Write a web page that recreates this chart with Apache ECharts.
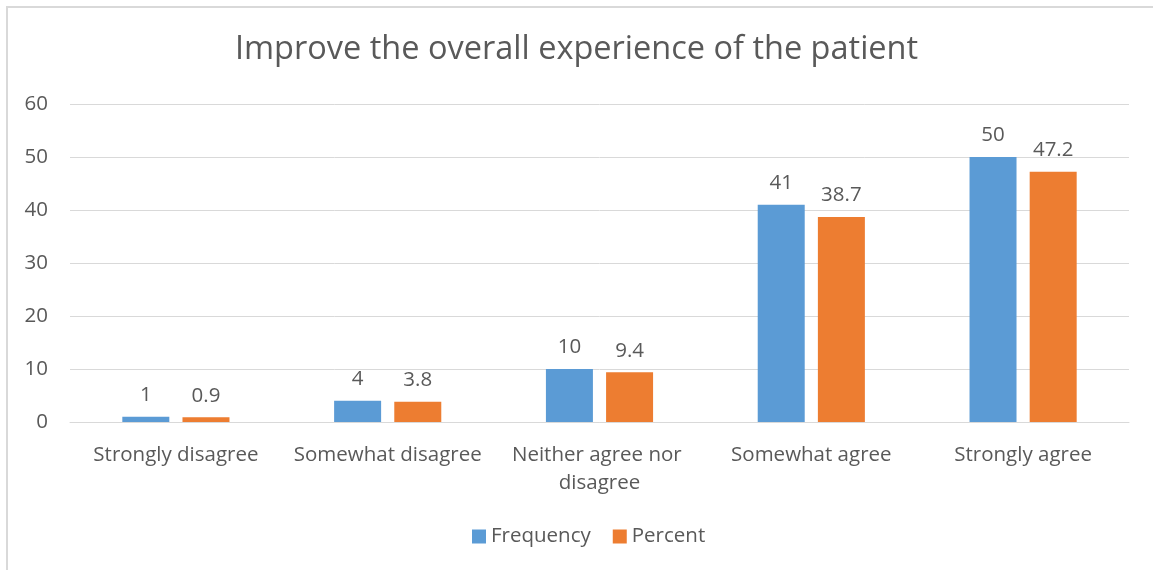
<!DOCTYPE html>
<html>
<head>
<meta charset="utf-8">
<script src="https://cdn.jsdelivr.net/npm/echarts@6/dist/echarts.min.js"></script>
<style>
  html, body { margin: 0; padding: 0; background: #fff; overflow: hidden; }
  #frame {
    position: absolute; left: 6px; top: 6px;
    width: 1200px; height: 640px;
    border: 2px solid #d9d9d9; box-sizing: border-box;
  }
  #main { position: absolute; left: 0; top: 0; width: 1153px; height: 570px; }
</style>
</head>
<body>
<div id="frame"></div>
<div id="main"></div>
<script>
// chart data
const categories = ['Strongly disagree', 'Somewhat disagree', 'Neither agree nor disagree', 'Somewhat agree', 'Strongly agree']
const frequency = [1, 4, 10, 41, 50]
const percent = [0.9, 3.8, 9.4, 38.7, 47.2]
const yTicks = [0, 10, 20, 30, 40, 50, 60]

const textColor = '#595959'
const fontFamily = '"Open Sans", sans-serif'
const labelSize = 20.5

const chart = echarts.init(document.getElementById('main'))
chart.setOption({
  animation: false,
  textStyle: { fontFamily: fontFamily, color: textColor },
  title: {
    text: 'Improve the overall experience of the patient',
    left: 'center',
    top: 28,
    textStyle: { fontSize: 32.5, fontWeight: 'normal', color: textColor, fontFamily: fontFamily }
  },
  legend: {
    data: ['Frequency', 'Percent'],
    bottom: 18,
    left: 467,
    itemWidth: 14,
    itemHeight: 14,
    itemGap: 22,
    icon: 'rect',
    textStyle: { fontSize: labelSize, color: textColor, fontFamily: fontFamily }
  },
  grid: { left: 70, right: 24, top: 104, bottom: 148 },
  xAxis: {
    type: 'category',
    data: categories,
    axisLine: { lineStyle: { color: '#d9d9d9', width: 1 } },
    axisTick: { show: false },
    axisLabel: {
      fontSize: labelSize,
      color: textColor,
      margin: 19,
      lineHeight: 28,
      width: 205,
      overflow: 'break',
      interval: 0
    }
  },
  yAxis: {
    type: 'value',
    min: yTicks[0],
    max: yTicks[yTicks.length - 1],
    interval: 10,
    axisLine: { show: false },
    axisTick: { show: false },
    axisLabel: { fontSize: labelSize, color: textColor, margin: 22 },
    splitLine: { lineStyle: { color: '#d9d9d9', width: 1 } }
  },
  series: [
    {
      name: 'Frequency',
      type: 'bar',
      data: frequency,
      barWidth: 47,
      barGap: '28%',
      itemStyle: { color: '#5b9bd5' },
      label: { show: true, position: 'top', distance: 11, fontSize: labelSize, color: textColor }
    },
    {
      name: 'Percent',
      type: 'bar',
      data: percent,
      barWidth: 47,
      itemStyle: { color: '#ed7d31' },
      label: { show: true, position: 'top', distance: 11, fontSize: labelSize, color: textColor }
    }
  ]
})
</script>
</body>
</html>
